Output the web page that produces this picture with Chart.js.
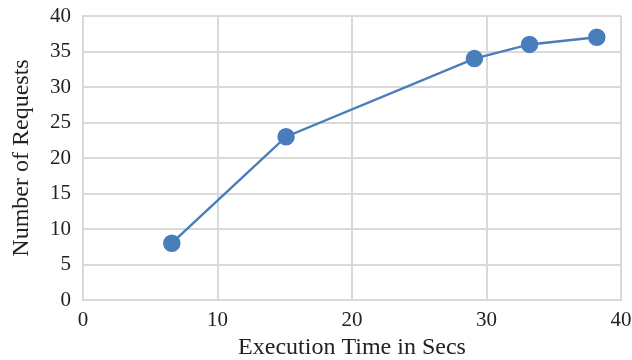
<!DOCTYPE html>
<html><head><meta charset="utf-8">
<script src="https://cdn.jsdelivr.net/npm/chart.js@4"></script>
<style>html,body{margin:0;padding:0;background:#fff}#wrap{width:632px;height:360px}</style>
</head><body><div id="wrap"><canvas id="c" width="632" height="360"></canvas></div>
<script>
const execTimes = [6.6, 15.1, 29.1, 33.2, 38.2];
const requests = [8, 23, 34, 36, 37];
const xTitle = "Execution Time in Secs";
const yTitle = "Number of Requests";
const font = "'Liberation Serif', 'Times New Roman', serif";
const pts = execTimes.map((x, i) => ({x, y: requests[i]}));
new Chart(document.getElementById('c'), {
  type: 'scatter',
  data: {datasets: [{data: pts, showLine: true, borderColor: '#4a7ebb', backgroundColor: '#4a7ebb',
    borderWidth: 2.5, pointRadius: 7.5, pointHoverRadius: 7.5, tension: 0}]},
  options: {
    responsive: false, animation: false,
    layout: {padding: {top: 16, right: 11, left: 0, bottom: 0}},
    plugins: {legend: {display: false}, tooltip: {enabled: false}},
    scales: {
      x: {type: 'linear', min: 0, max: 40,
        afterFit: s => { s.height = 60; s.paddingLeft = 0; s.paddingRight = 0; },
        ticks: {stepSize: 10, color: '#222', font: {family: font, size: 21}, padding: 8, maxRotation: 0},
        grid: {color: '#d9d9d9', lineWidth: 2, drawTicks: false},
        border: {color: '#d9d9d9', width: 2},
        title: {display: true, text: xTitle, color: '#222', font: {family: font, size: 24}, padding: {top: 0, bottom: -2}}},
      y: {min: 0, max: 40,
        afterFit: s => { s.width = 83; s.paddingTop = 0; s.paddingBottom = 0; },
        ticks: {stepSize: 5, color: '#222', font: {family: font, size: 21}, padding: 12},
        grid: {color: '#d9d9d9', lineWidth: 2, drawTicks: false},
        border: {color: '#d9d9d9', width: 2},
        title: {display: true, text: yTitle, color: '#222', font: {family: font, size: 24}, padding: {top: 7, bottom: 0}}}
    }
  }
});
</script></body></html>
